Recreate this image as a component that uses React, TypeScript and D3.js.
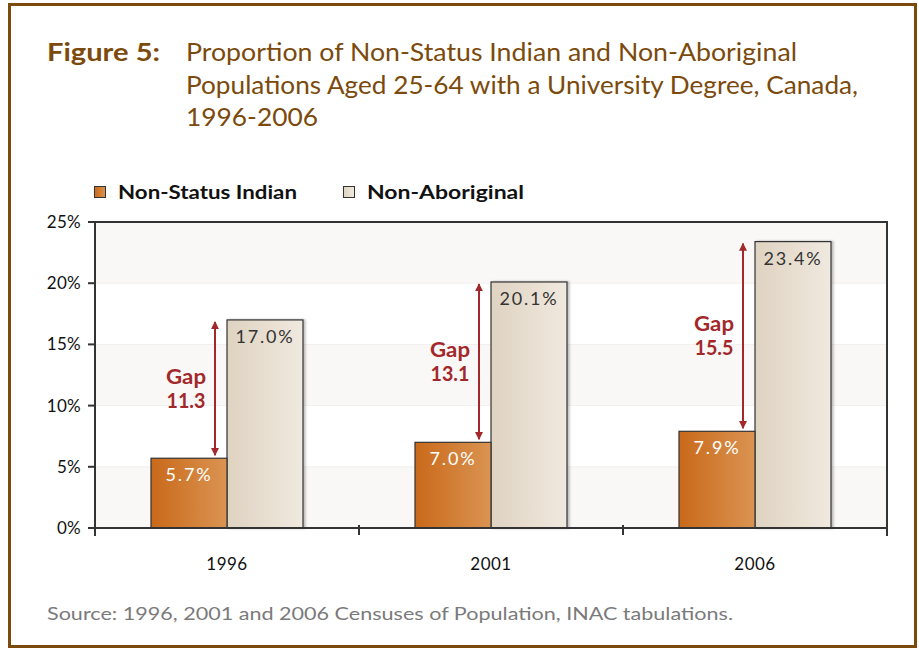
import React from 'react';
import * as d3 from 'd3';

const years = ['1996', '2001', '2006'];
const series = ['Non-Status Indian', 'Non-Aboriginal'];
const nonStatus = [5.7, 7.0, 7.9];
const nonAboriginal = [17.0, 20.1, 23.4];
const gaps = ['11.3', '13.1', '15.5'];
const yTicks = [0, 5, 10, 15, 20, 25];

const titleLines = [
  'Proportion of Non-Status Indian and Non-Aboriginal',
  'Populations Aged 25-64 with a University Degree, Canada,',
  '1996-2006',
];
const titleWidths = [611, 672, 132];
const legendWidths = [179, 157];

const W = 919;
const H = 649;
const left = 95;
const right = 887;
const top = 222;
const bottom = 528;
const font = 'Lato, "Open Sans", sans-serif';
const brown = '#7b4a0c';
const red = '#a3282b';

export default function App() {
  const x = d3.scaleBand().domain(years).range([left, right]).padding(0);
  const inner = d3.scaleBand().domain(series).range([56, x.bandwidth() - 56]).padding(0);
  const y = d3.scaleLinear().domain([0, 25]).range([bottom, top]);

  const bands = d3.range(0, 25, 5);

  return (
    <svg width={W} height={H} style={{ position: 'absolute', left: 0, top: 0 }} fontFamily={font}>
      <defs>
        <linearGradient id="gOrange" x1="0" x2="1" y1="0" y2="0">
          <stop offset="0" stopColor="#c9691a" />
          <stop offset="1" stopColor="#da9452" />
        </linearGradient>
        <linearGradient id="gBeige" x1="0" x2="1" y1="0" y2="0">
          <stop offset="0" stopColor="#dfd3c1" />
          <stop offset="1" stopColor="#f0e9df" />
        </linearGradient>
        <marker id="arrow" viewBox="0 0 10 10" refX="9" refY="5" markerWidth="4" markerHeight="5" orient="auto-start-reverse">
          <path d="M0,0 L10,5 L0,10 z" fill={red} />
        </marker>
        <filter id="shadow" x="-10%" y="-10%" width="130%" height="120%">
          <feDropShadow dx="2" dy="0" stdDeviation="1" floodColor="#000" floodOpacity="0.25" />
        </filter>
      </defs>
      <rect x={0} y={0} width={W} height={H} fill="#fff" />
      <rect x={9.5} y={4.5} width={906} height={642} fill="none" stroke={brown} strokeWidth={3} />

      <text x={47} y={61} fontSize={25} fontWeight="bold" fill={brown} textLength={113} lengthAdjust="spacingAndGlyphs">Figure 5:</text>
      {titleLines.map((t, i) => (
        <text key={i} x={186} y={61 + i * 32.5} fontSize={25} fill={brown} textLength={titleWidths[i]} lengthAdjust="spacingAndGlyphs">{t}</text>
      ))}

      {series.map((s, i) => {
        const lx = i === 0 ? 94 : 343;
        return (
          <g key={s}>
            <rect x={lx + 0.5} y={186.5} width={11} height={11} fill={i === 0 ? 'url(#gOrange)' : 'url(#gBeige)'} stroke="#333" strokeWidth={1} />
            <text x={lx + 24} y={199} fontSize={19} fontWeight="bold" fill="#111" textLength={legendWidths[i]} lengthAdjust="spacingAndGlyphs">{s}</text>
          </g>
        );
      })}

      {bands.map((b, i) => (
        <rect key={b} x={left} y={y(b + 5)} width={right - left} height={y(b) - y(b + 5)} fill={i % 2 === 0 ? '#f9f8f6' : '#ffffff'} />
      ))}
      {bands.slice(1).map((b) => (
        <line key={b} x1={left} x2={right} y1={y(b)} y2={y(b)} stroke="#f1efec" strokeWidth={1} />
      ))}

      {years.map((yr, i) => {
        const x0 = x(yr)!;
        const xa = x0 + inner(series[0])!;
        const xb = x0 + inner(series[1])!;
        const bw = inner.bandwidth();
        const ax = xb - 12;
        const mid = (nonStatus[i] + nonAboriginal[i]) / 2;
        return (
          <g key={yr}>
            <rect x={xb} y={y(nonAboriginal[i])} width={bw} height={bottom - y(nonAboriginal[i])} fill="url(#gBeige)" stroke="#333" strokeWidth={1.2} filter="url(#shadow)" />
            <rect x={xa} y={y(nonStatus[i])} width={bw} height={bottom - y(nonStatus[i])} fill="url(#gOrange)" stroke="#333" strokeWidth={1.2} />
            <text x={xa + bw / 2} y={y(nonStatus[i]) + 23} fontSize={18} fill="#fff" textAnchor="middle" letterSpacing={1.8}>{nonStatus[i].toFixed(1)}%</text>
            <text x={xb + bw / 2} y={y(nonAboriginal[i]) + 23} fontSize={18} fill="#333" textAnchor="middle" letterSpacing={1.8}>{nonAboriginal[i].toFixed(1)}%</text>
            <line x1={ax} x2={ax} y1={y(nonStatus[i]) - 3} y2={y(nonAboriginal[i]) + 2} stroke={red} strokeWidth={2} markerStart="url(#arrow)" markerEnd="url(#arrow)" />
            <text x={ax - 29} y={y(mid) - 5} fontSize={20} fontWeight="bold" fill={red} textAnchor="middle" textLength={40} lengthAdjust="spacingAndGlyphs">Gap</text>
            <text x={ax - 29} y={y(mid) + 19} fontSize={20} fontWeight="bold" fill={red} textAnchor="middle" textLength={39} lengthAdjust="spacingAndGlyphs">{gaps[i]}</text>
            <text x={x0 + x.bandwidth() / 2} y={570} fontSize={17} fill="#111" textAnchor="middle" letterSpacing={0.5}>{yr}</text>
          </g>
        );
      })}

      <rect x={left} y={top} width={right - left} height={bottom - top} fill="none" stroke="#333" strokeWidth={2} />
      <line x1={left} x2={left} y1={top} y2={bottom + 8} stroke="#333" strokeWidth={2} />
      {yTicks.map((t) => (
        <g key={t}>
          <line x1={left - 7} x2={left} y1={y(t)} y2={y(t)} stroke="#333" strokeWidth={2} />
          <text x={81} y={y(t) + 6} fontSize={17} fill="#111" textAnchor="end" letterSpacing={0.3}>{t}%</text>
        </g>
      ))}
      {years.slice(1).map((yr) => (
        <line key={yr} x1={x(yr)!} x2={x(yr)!} y1={bottom - 3} y2={bottom + 7} stroke="#333" strokeWidth={2} />
      ))}
      <line x1={right} x2={right} y1={bottom} y2={bottom + 8} stroke="#333" strokeWidth={2} />

      <text x={47} y={620} fontSize={18} fill="#7a7a7a" textLength={686} lengthAdjust="spacingAndGlyphs">Source: 1996, 2001 and 2006 Censuses of Population, INAC tabulations.</text>
    </svg>
  );
}
